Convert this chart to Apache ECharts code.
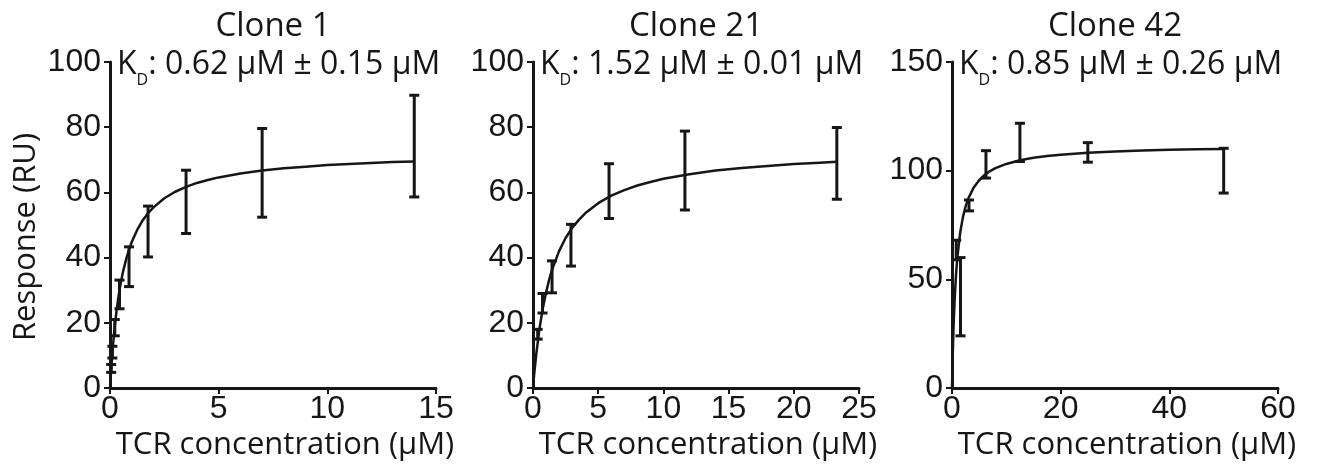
<!DOCTYPE html>
<html>
<head>
<meta charset="utf-8">
<script src="https://cdn.jsdelivr.net/npm/echarts@6/dist/echarts.min.js"></script>
<style>
html,body{margin:0;padding:0;background:#fff;}
#chart{width:1327px;height:464px;}
</style>
</head>
<body>
<div id="chart"></div>
<script>
// ---- Data ----
const panelTitles = ['Clone 1', 'Clone 21', 'Clone 42'];
const kdTexts = [': 0.62 μM ± 0.15 μM', ': 1.52 μM ± 0.01 μM', ': 0.85 μM ± 0.26 μM'];

// measured points (concentration, mean response, error)
const clone1Conc = [14, 7, 3.5, 1.75, 0.875, 0.4375, 0.219, 0.109, 0.055];
const clone1Mean = [74.2, 66, 57.1, 48, 37.2, 28.7, 18.5, 11, 6];
const clone1Err  = [15.6, 13.6, 9.7, 7.8, 6.1, 4.4, 2.5, 1.8, 1.2];

const clone21Conc = [23.3, 11.65, 5.83, 2.91, 1.46, 0.73, 0.36];
const clone21Mean = [68.9, 66.7, 60.4, 43.8, 34.1, 26, 16.5];
const clone21Err  = [11, 12.1, 8.4, 6.4, 4.9, 3, 1.5];

const clone42Conc = [50, 25, 12.5, 6.25, 3.125, 1.5625, 0.78];
const clone42Mean = [100, 108.4, 113, 102.9, 84, 42, 63.5];
const clone42Err  = [10.3, 4.5, 8.8, 6.3, 2.5, 18, 4.5];

// fitted binding curves
const fit1Conc = [0, 0.05, 0.1, 0.15, 0.2, 0.3, 0.4, 0.5, 0.6, 0.75, 0.9, 1, 1.25, 1.5, 1.75, 2, 2.5, 3, 3.5, 4, 4.5, 5, 6, 7, 8, 9, 10, 11, 12, 13, 14];
const fit1Resp = [0, 5.4, 10.1, 14.1, 17.7, 23.7, 28.5, 32.4, 35.7, 39.7, 43.0, 44.8, 48.5, 51.4, 53.6, 55.4, 58.2, 60.2, 61.7, 62.9, 63.8, 64.6, 65.8, 66.7, 67.4, 67.9, 68.4, 68.7, 69.0, 69.3, 69.5];

const fit21Conc = [0, 0.1, 0.25, 0.5, 0.75, 1, 1.25, 1.5, 2, 2.5, 3, 3.5, 4, 5, 6, 7, 8, 9, 10, 12, 14, 16, 18, 20, 22, 23.3];
const fit21Resp = [0, 4.6, 10.4, 18.3, 24.4, 29.3, 33.4, 36.7, 42.0, 46.0, 49.1, 51.5, 53.6, 56.7, 59.0, 60.7, 62.1, 63.2, 64.2, 65.6, 66.7, 67.5, 68.1, 68.7, 69.1, 69.4];

const fit42Conc = [0, 0.1, 0.2, 0.3, 0.5, 0.75, 1, 1.5, 2, 2.5, 3, 4, 5, 6, 7, 8, 10, 12.5, 15, 17.5, 20, 25, 30, 35, 40, 45, 50];
const fit42Resp = [0, 11.8, 21.3, 29.2, 41.4, 52.5, 60.5, 71.4, 78.5, 83.5, 87.2, 92.3, 95.6, 98.0, 99.8, 101.2, 103.1, 104.8, 105.9, 106.7, 107.3, 108.2, 108.8, 109.3, 109.6, 109.8, 110.0];

// axis ranges
const xMax = [15, 25, 60];
const xInterval = [5, 5, 20];
const yMax = [100, 100, 150];
const yInterval = [20, 20, 50];

const xAxisTitle = 'TCR concentration (μM)';
const yAxisTitle = 'Response (RU)';

// ---- Layout ----
const GRID_LEFT = [110, 533, 952];
const GRID_TOP = 62;
const GRID_SIZE = 326;
const INK = '#161616';
const TITLE_FONT = '"Open Sans", "Noto Sans", sans-serif';
const NUM_FONT = '"Liberation Sans", Arial, sans-serif';

const points = [
  clone1Conc.map((c, i) => [c, clone1Mean[i], clone1Err[i]]),
  clone21Conc.map((c, i) => [c, clone21Mean[i], clone21Err[i]]),
  clone42Conc.map((c, i) => [c, clone42Mean[i], clone42Err[i]])
];
const fits = [
  fit1Conc.map((c, i) => [c, fit1Resp[i]]),
  fit21Conc.map((c, i) => [c, fit21Resp[i]]),
  fit42Conc.map((c, i) => [c, fit42Resp[i]])
];

const grids = [], xAxes = [], yAxes = [], series = [], graphics = [];
for (let p = 0; p < 3; p++) {
  grids.push({left: GRID_LEFT[p], top: GRID_TOP, width: GRID_SIZE, height: GRID_SIZE, outerBoundsMode: 'none', containLabel: false});
  xAxes.push({
    type: 'value', gridIndex: p, min: 0, max: xMax[p], interval: xInterval[p],
    splitLine: {show: false},
    axisLine: {show: true, lineStyle: {color: INK, width: 3}},
    axisTick: {show: true, inside: false, length: 6, lineStyle: {color: INK, width: 2}},
    axisLabel: {color: INK, fontSize: 32, fontFamily: NUM_FONT, margin: 5},
    name: xAxisTitle, nameLocation: 'middle', nameGap: 33,
    nameTextStyle: {color: INK, fontSize: 31, fontFamily: TITLE_FONT, padding: [0, 0, 0, 24]}
  });
  const ya = {
    type: 'value', gridIndex: p, min: 0, max: yMax[p], interval: yInterval[p],
    splitLine: {show: false},
    axisLine: {show: true, onZero: false, lineStyle: {color: INK, width: 3}},
    axisTick: {show: true, inside: false, length: 6, lineStyle: {color: INK, width: 2}},
    axisLabel: {color: INK, fontSize: 32, fontFamily: NUM_FONT, margin: 9}
  };
  if (p === 0) {
    ya.name = yAxisTitle;
    ya.nameLocation = 'middle';
    ya.nameRotate = 90;
    ya.nameGap = 68;
    ya.nameTextStyle = {color: INK, fontSize: 31, fontFamily: TITLE_FONT, padding: [0, 24, 0, 0]};
  }
  yAxes.push(ya);

  series.push({
    type: 'line', xAxisIndex: p, yAxisIndex: p, data: fits[p],
    smooth: false, showSymbol: false, symbol: 'none',
    lineStyle: {color: INK, width: 2.5, join: 'round'}, silent: true, z: 2
  });
  series.push({
    type: 'custom', xAxisIndex: p, yAxisIndex: p, data: points[p],
    encode: {x: 0, y: 1}, silent: true, z: 3,
    renderItem: function (params, api) {
      const x = api.value(0), m = api.value(1), e = api.value(2);
      const top = api.coord([x, m + e]);
      const bot = api.coord([x, m - e]);
      const hw = 5;
      const st = {stroke: INK, lineWidth: 3};
      return {type: 'group', children: [
        {type: 'line', shape: {x1: top[0], y1: top[1], x2: bot[0], y2: bot[1]}, style: st},
        {type: 'line', shape: {x1: top[0] - hw, y1: top[1], x2: top[0] + hw, y2: top[1]}, style: st},
        {type: 'line', shape: {x1: bot[0] - hw, y1: bot[1], x2: bot[0] + hw, y2: bot[1]}, style: st}
      ]};
    }
  });

  graphics.push({
    type: 'text', x: GRID_LEFT[p] + GRID_SIZE / 2, y: 27, silent: true,
    style: {text: panelTitles[p], fontSize: 33, fontFamily: TITLE_FONT, fill: INK, align: 'center', verticalAlign: 'middle'}
  });
  graphics.push({
    type: 'text', x: GRID_LEFT[p] + 7, y: 65, silent: true,
    style: {
      text: '{k|K}{d|D}{t|' + kdTexts[p] + '}',
      align: 'left', verticalAlign: 'middle', fill: INK,
      rich: {
        k: {fontSize: 32, fontFamily: TITLE_FONT, fill: INK, verticalAlign: 'middle'},
        d: {fontSize: 16, fontFamily: TITLE_FONT, fill: INK, padding: [30, 0, 0, 0], verticalAlign: 'middle'},
        t: {fontSize: 32, fontFamily: TITLE_FONT, fill: INK, verticalAlign: 'middle'}
      }
    }
  });
}

const chart = echarts.init(document.getElementById('chart'), null, {renderer: 'canvas'});
chart.setOption({
  animation: false,
  backgroundColor: '#ffffff',
  grid: grids,
  xAxis: xAxes,
  yAxis: yAxes,
  series: series,
  graphic: graphics
});
</script>
</body>
</html>
